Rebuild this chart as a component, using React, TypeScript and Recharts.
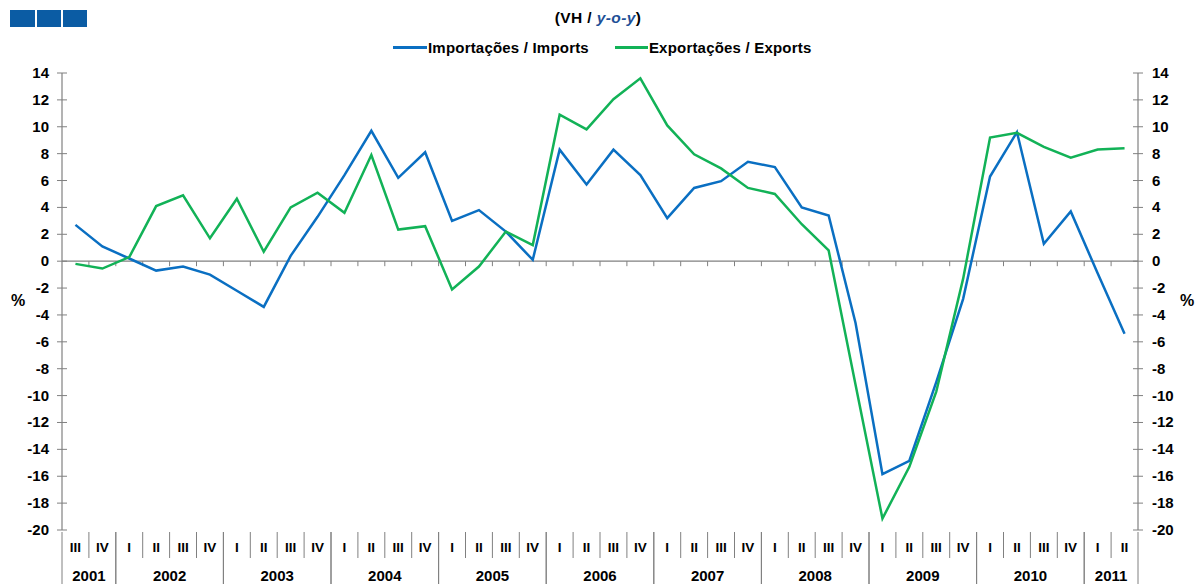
import { LineChart, Line, XAxis, YAxis, ReferenceLine } from 'recharts'

// Quarterly y-o-y change, 2001 Q3 .. 2011 Q2
const quarterLabels = [
  'III', 'IV',
  'I', 'II', 'III', 'IV',
  'I', 'II', 'III', 'IV',
  'I', 'II', 'III', 'IV',
  'I', 'II', 'III', 'IV',
  'I', 'II', 'III', 'IV',
  'I', 'II', 'III', 'IV',
  'I', 'II', 'III', 'IV',
  'I', 'II', 'III', 'IV',
  'I', 'II', 'III', 'IV',
  'I', 'II',
]
const yearLabels = [
  '2001', '2001',
  '2002', '2002', '2002', '2002',
  '2003', '2003', '2003', '2003',
  '2004', '2004', '2004', '2004',
  '2005', '2005', '2005', '2005',
  '2006', '2006', '2006', '2006',
  '2007', '2007', '2007', '2007',
  '2008', '2008', '2008', '2008',
  '2009', '2009', '2009', '2009',
  '2010', '2010', '2010', '2010',
  '2011', '2011',
]
const imports = [
  2.7, 1.1, 0.2, -0.7, -0.4, -1.0, -2.2, -3.4, 0.4, 3.3,
  6.4, 9.7, 6.2, 8.1, 3.0, 3.8, 2.2, 0.1, 8.3, 5.7,
  8.3, 6.4, 3.2, 5.45, 5.95, 7.4, 7.0, 4.0, 3.4, -4.6,
  -15.85, -14.85, -9.0, -2.8, 6.3, 9.6, 1.3, 3.7, -0.9, -5.4,
]
const exports = [
  -0.2, -0.55, 0.3, 4.1, 4.9, 1.7, 4.65, 0.7, 4.0, 5.1,
  3.6, 7.9, 2.35, 2.6, -2.1, -0.4, 2.2, 1.2, 10.9, 9.8,
  12.05, 13.6, 10.1, 7.95, 6.9, 5.45, 5.0, 2.75, 0.8, -9.2,
  -19.15, -15.3, -9.7, -1.3, 9.2, 9.55, 8.5, 7.7, 8.3, 8.4,
]
const yTicks = [14, 12, 10, 8, 6, 4, 2, 0, -2, -4, -6, -8, -10, -12, -14, -16, -18, -20]

const data = quarterLabels.map((q, i) => ({
  key: i,
  quarter: q,
  year: yearLabels[i],
  imports: imports[i],
  exports: exports[i],
}))

const W = 1196
const H = 584
const LEFT_W = 62
const RIGHT_W = 58
const TOP = 73
const X_H = 54
const band = (W - LEFT_W - RIGHT_W) / data.length

const BLUE = '#0a6fc2'
const GREEN = '#12b257'
const AXIS = '#808080'
const FONT = '"Liberation Sans", Arial, sans-serif'

function YTick(props: any) {
  const { x, y, payload, side } = props
  const axisX = side === 'left' ? x + 14 : x - 14
  return (
    <g>
      <line x1={axisX - 5} x2={axisX + 5} y1={y} y2={y} stroke={AXIS} strokeWidth={1} />
      <text
        x={side === 'left' ? axisX - 13 : axisX + 14}
        y={y}
        dy={5}
        textAnchor={side === 'left' ? 'end' : 'start'}
        fontFamily={FONT}
        fontWeight="bold"
        fontSize={15}
        fill="#000"
      >
        {payload.value}
      </text>
    </g>
  )
}

function XTick(props: any) {
  const { x, y, index } = props
  const top = y - 8
  const d = data[index]
  if (!d) return null
  const right = x + band / 2
  const left = x - band / 2
  const firstOfYear = index === 0 || yearLabels[index - 1] !== d.year
  const lastOfYear = index === data.length - 1 || yearLabels[index + 1] !== d.year
  const count = yearLabels.filter((yl) => yl === d.year).length
  return (
    <g>
      <text x={x} y={top + 22} textAnchor="middle" fontFamily={FONT} fontWeight="bold" fontSize={13.5} fill="#000">
        {d.quarter}
      </text>
      {firstOfYear && (
        <>
          <line x1={left} x2={left} y1={top + 2} y2={H} stroke={AXIS} strokeWidth={1} />
          <text x={left + (count * band) / 2} y={top + 51} textAnchor="middle" fontFamily={FONT} fontWeight="bold" fontSize={15} fill="#000">
            {d.year}
          </text>
        </>
      )}
      {lastOfYear ? (
        <line x1={right} x2={right} y1={top + 2} y2={H} stroke={AXIS} strokeWidth={1} />
      ) : (
        <line x1={right} x2={right} y1={top + 2} y2={top + 28} stroke={AXIS} strokeWidth={1} />
      )}
    </g>
  )
}

function ZeroLine(props: any) {
  const { x1, x2, y1 } = props
  const step = (x2 - x1) / data.length
  return (
    <g>
      <line x1={x1} x2={x2} y1={y1} y2={y1} stroke={AXIS} strokeWidth={1.2} />
      {data.slice(1).map((d) => (
        <line key={d.key} x1={x1 + step * d.key} x2={x1 + step * d.key} y1={y1} y2={y1 + 5} stroke={AXIS} strokeWidth={1} />
      ))}
    </g>
  )
}

export default function App() {
  return (
    <div style={{ position: 'absolute', left: 0, top: 0, width: W, height: H, background: '#fff', fontFamily: FONT }}>
      <div style={{ position: 'absolute', left: 10, top: 10, display: 'flex', gap: 2 }}>
        <div style={{ width: 25, height: 17, background: '#0b5ca4' }} />
        <div style={{ width: 24, height: 17, background: '#0b5ca4' }} />
        <div style={{ width: 24, height: 17, background: '#0b5ca4' }} />
      </div>
      <div style={{ position: 'absolute', left: 0, width: W, top: 9, textAlign: 'center', fontSize: 15.5, fontWeight: 'bold', color: '#000', letterSpacing: 0.4, paddingLeft: 0 }}>
        (VH / <span style={{ color: '#1d4f96', fontStyle: 'italic' }}>y-o-y</span>)
      </div>
      <div style={{ position: 'absolute', left: 393, top: 39, display: 'flex', alignItems: 'center', fontSize: 15, fontWeight: 'bold', color: '#000', letterSpacing: 0.2 }}>
        <span style={{ display: 'inline-block', width: 34, height: 2.5, background: BLUE, marginRight: 1 }} />
        <span>Importações / Imports</span>
        <span style={{ display: 'inline-block', width: 33, height: 2.5, background: GREEN, marginLeft: 26, marginRight: 1 }} />
        <span>Exportações / Exports</span>
      </div>
      <div style={{ position: 'absolute', left: 11, top: 292, fontSize: 16, fontWeight: 'bold' }}>%</div>
      <div style={{ position: 'absolute', left: 1180, top: 292, fontSize: 16, fontWeight: 'bold' }}>%</div>
      <div style={{ position: 'absolute', left: 0, top: 0 }}>
        <LineChart width={W} height={H} data={data} margin={{ top: TOP, right: 0, bottom: 0, left: 0 }}>
          <XAxis
            dataKey="key"
            height={X_H}
            axisLine={false}
            tickLine={false}
            interval={0}
            padding={{ left: band / 2, right: band / 2 }}
            tick={<XTick />}
          />
          <YAxis
            yAxisId="left"
            orientation="left"
            width={LEFT_W}
            domain={[-20, 14]}
            ticks={yTicks}
            interval={0}
            tickSize={5}
            tickMargin={9}
            tickLine={false}
            axisLine={{ stroke: AXIS, strokeWidth: 1.2 }}
            tick={<YTick side="left" />}
          />
          <YAxis
            yAxisId="right"
            orientation="right"
            width={RIGHT_W}
            domain={[-20, 14]}
            ticks={yTicks}
            interval={0}
            tickSize={5}
            tickMargin={9}
            tickLine={false}
            axisLine={{ stroke: AXIS, strokeWidth: 1.2 }}
            tick={<YTick side="right" />}
          />
          <ReferenceLine yAxisId="left" y={0} shape={(p: any) => <ZeroLine {...p} />} />
          <Line yAxisId="left" dataKey="imports" stroke={BLUE} strokeWidth={2.5} dot={false} isAnimationActive={false} />
          <Line yAxisId="right" dataKey="exports" stroke={GREEN} strokeWidth={2.5} dot={false} isAnimationActive={false} />
        </LineChart>
      </div>
    </div>
  )
}
